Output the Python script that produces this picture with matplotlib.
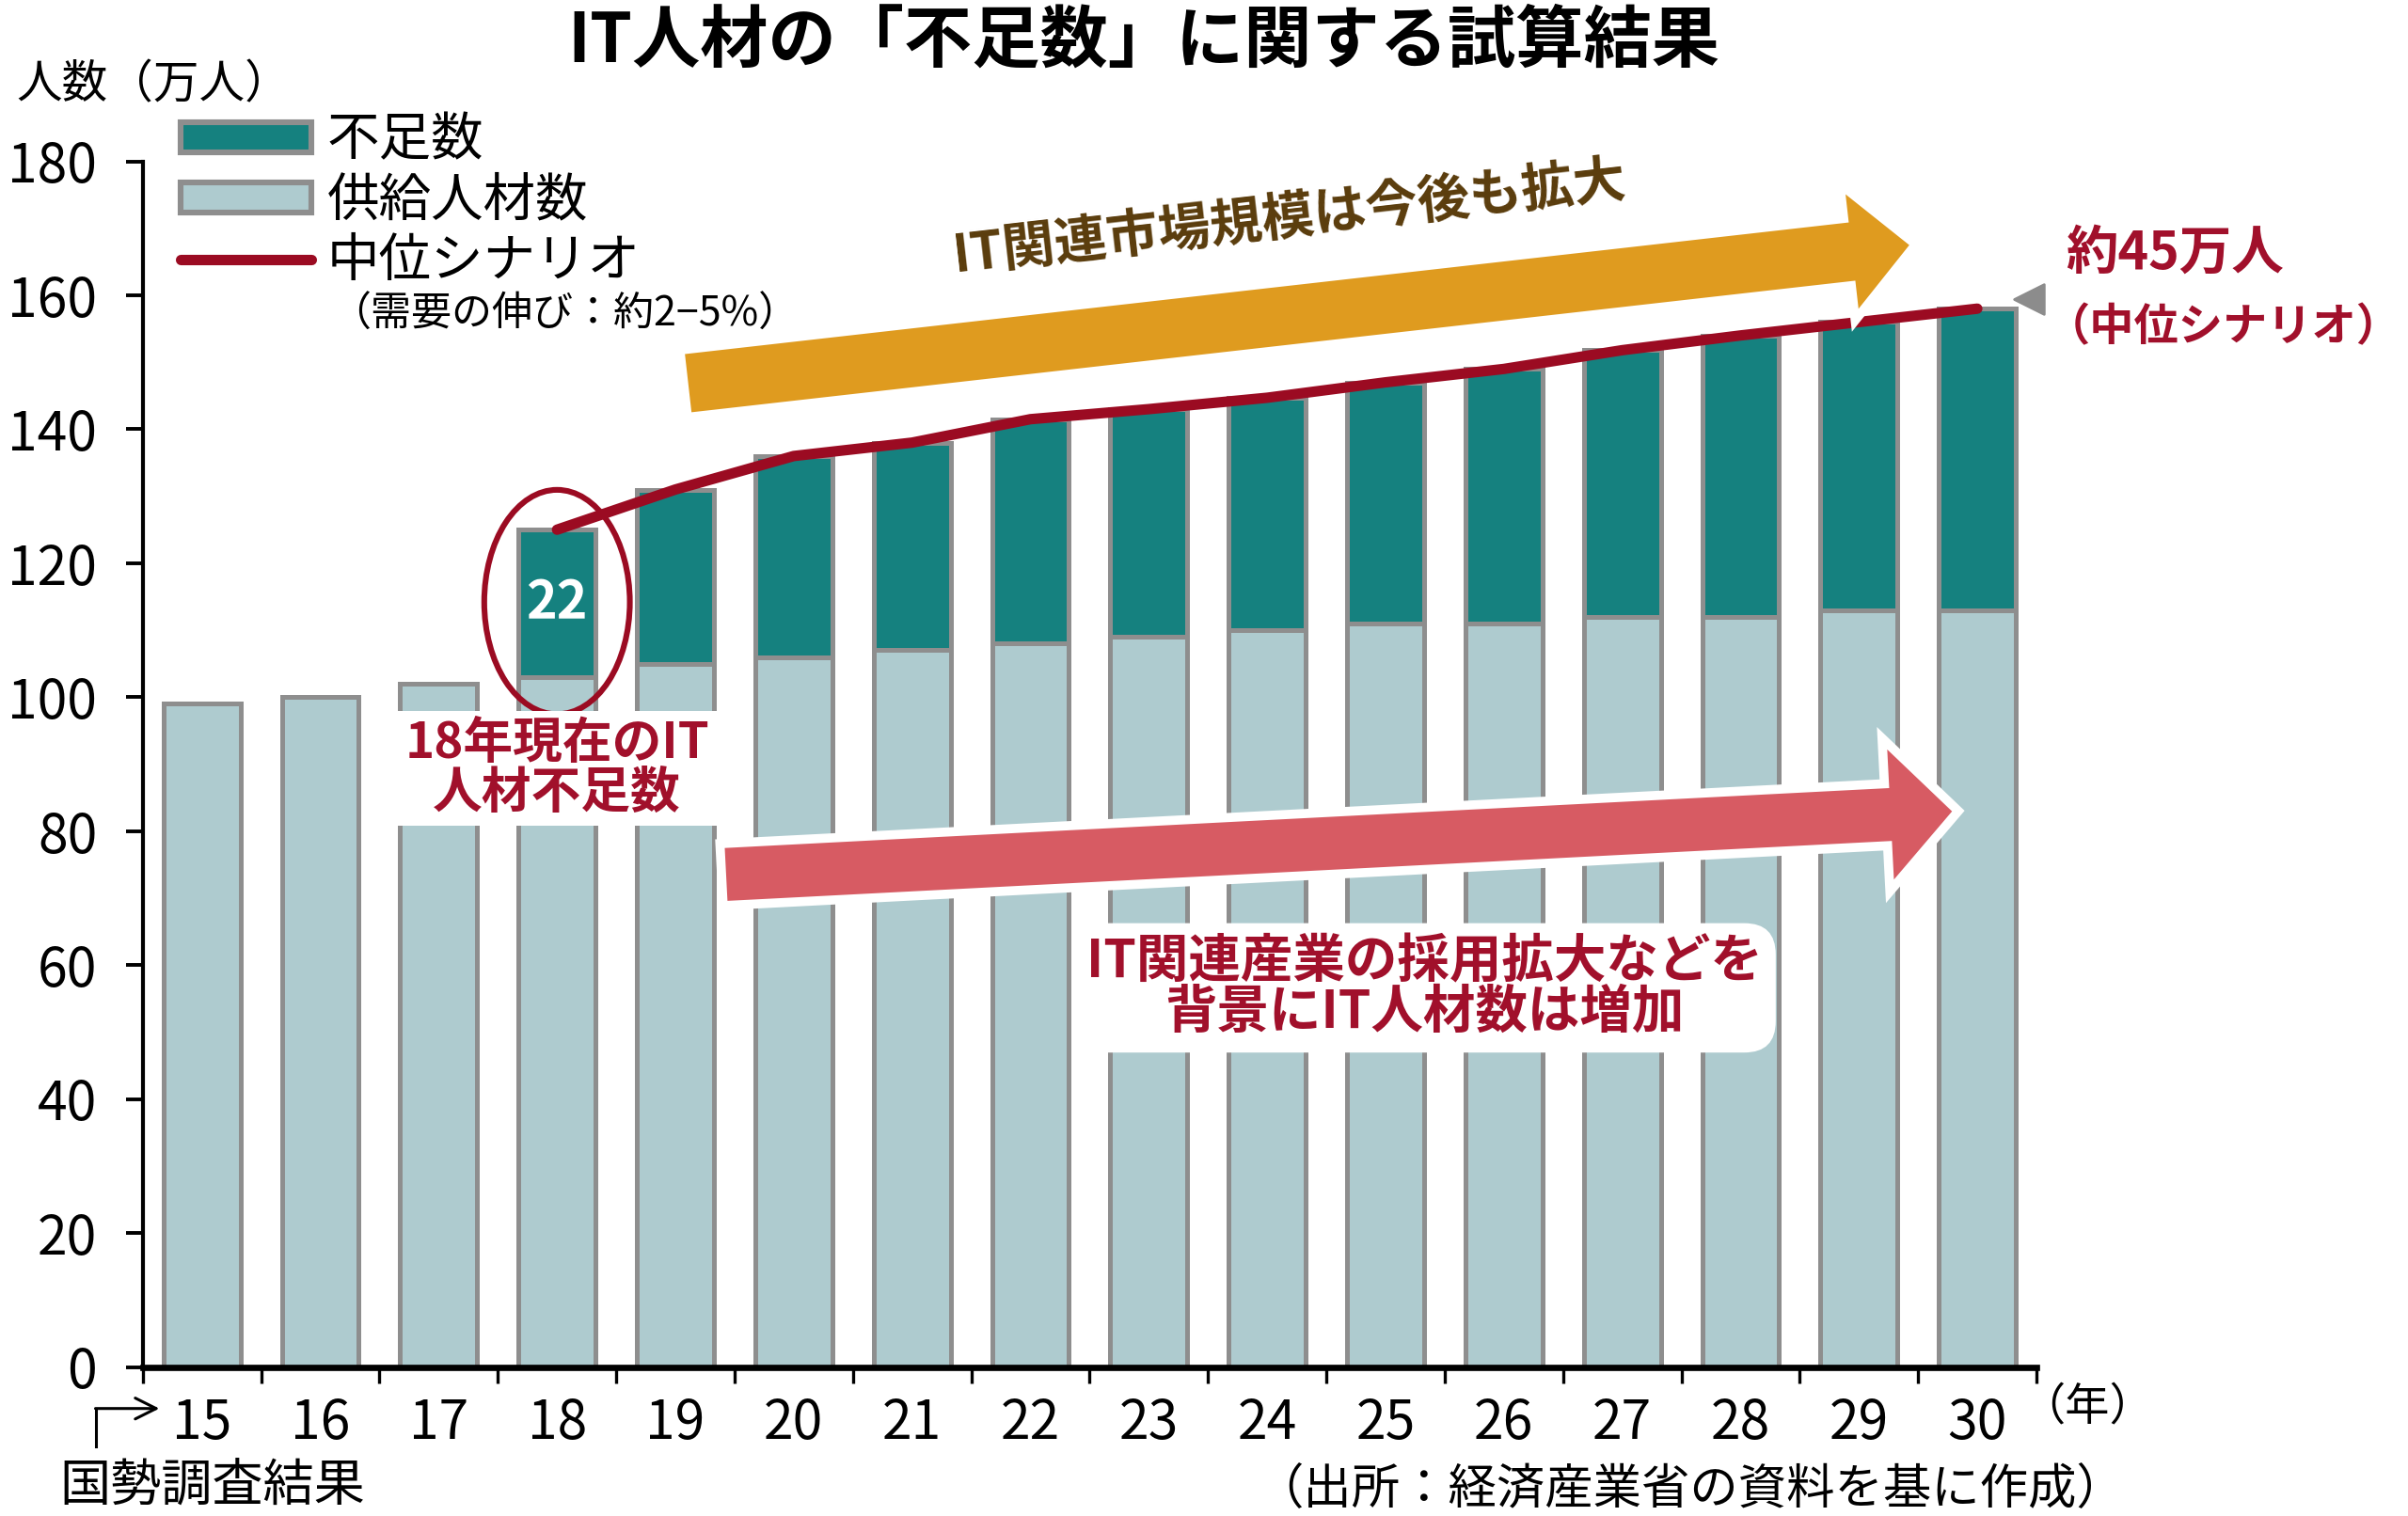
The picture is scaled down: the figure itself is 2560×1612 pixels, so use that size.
import numpy as np
import matplotlib
matplotlib.use('Agg')
from matplotlib import pyplot as plt
from matplotlib import font_manager
from matplotlib.patches import Polygon, Ellipse, Patch
from matplotlib.lines import Line2D

plt.rcParams['font.family'] = ['Noto Sans CJK JP', 'DejaVu Sans']

# data (万人)
years    = ['15', '16', '17', '18', '19', '20', '21', '22', '23', '24', '25', '26', '27', '28', '29', '30']
supply   = [99, 100, 102, 103, 105, 106, 107, 108, 109, 110, 111, 111, 112, 112, 113, 113]
shortage = [0, 0, 0, 22, 26, 30, 31, 33.5, 34, 34.7, 36, 38, 39.8, 42, 43, 45]
yticks   = [0, 20, 40, 60, 80, 100, 120, 140, 160, 180]

teal  = '#15817f'
light = '#aecbcf'
edge  = '#8e8e8e'
red   = '#9b0b22'
dred  = '#a1102b'

# narrow font for the numbers if there is one
try:
	font_manager.findfont('Liberation Sans Narrow', fallback_to_default=False)
	numfont = ['Liberation Sans Narrow', 'DejaVu Sans']
	numsize = 23
except Exception:
	numfont = ['Noto Sans CJK JP', 'DejaVu Sans']
	numsize = 20.5

fig = plt.figure(figsize=(12.8, 8.06), dpi=200)
ax  = fig.add_axes([0.0593, 0.0983, 0.7864, 0.7953])

x = np.arange(len(years))
supply   = np.array(supply, dtype=float)
shortage = np.array(shortage, dtype=float)
total    = supply + shortage

ax.bar(x, supply, width=0.65, color=light, edgecolor=edge, linewidth=1.8, zorder=2)
ax.bar(x, shortage, bottom=supply, width=0.65, color=teal, edgecolor=edge, linewidth=1.8, zorder=2)
ax.plot(x[3:], total[3:], color=red, lw=4.0, solid_capstyle='round', solid_joinstyle='round', zorder=4)

ax.set_xlim(-0.5, len(years) - 0.5)
ax.set_ylim(0, 180)
ax.set_yticks(yticks)
ax.set_yticklabels([str(v) for v in yticks], family=numfont, fontsize=numsize)
ax.set_xticks(x)
ax.set_xticklabels(years, family=numfont, fontsize=numsize)
ax.set_xticks(np.arange(-0.5, len(years)), minor=True)
ax.tick_params(axis='x', which='major', length=0, pad=11)
ax.tick_params(axis='x', which='minor', length=6, width=1.2, direction='out')
ax.tick_params(axis='y', length=6.5, width=1.4, pad=11)
for s in ['top', 'right']:
	ax.spines[s].set_visible(False)
ax.spines['left'].set_linewidth(1.5)
ax.spines['bottom'].set_linewidth(2.4)
ax.spines['bottom'].set_zorder(5)

# arrows, drawn in pixels so the shape is not skewed
fig.canvas.draw()
def big_arrow(tail, tip, body, head_w, head_l, color):
	p0 = ax.transData.transform(tail)
	p1 = ax.transData.transform(tip)
	d  = p1 - p0
	L  = np.hypot(d[0], d[1])
	u  = d / L
	n  = np.array([-u[1], u[0]])
	b  = p1 - u * head_l
	pts = [p0 + n*body/2, b + n*body/2, b + n*head_w/2, p1,
	       b - n*head_w/2, b - n*body/2, p0 - n*body/2]
	ax.add_patch(Polygon(pts, closed=True, transform=None, facecolor=color,
	                     edgecolor='white', linewidth=3.5, zorder=6, clip_on=False))

big_arrow((4.07, 146.8), (14.48, 167.6), 72, 146, 73, '#df9b1f')
big_arrow((4.39, 73.5), (14.84, 83.0), 66, 163, 77, '#d75b63')

ax.text(9.19, 171.5, 'IT関連市場規模は今後も拡大', rotation=6.5, rotation_mode='anchor',
        ha='center', va='center', fontsize=20, fontweight='bold', color='#5a3c0c', zorder=7)

# 2018 circle
ax.add_patch(Ellipse((3.0, 114.2), 1.23, 33.5, fill=False, edgecolor=red, lw=2.2, zorder=7))
ax.text(3.0, 114.0, '%d' % shortage[3], ha='center', va='center', color='white',
        fontsize=20, fontweight='bold', family=numfont, zorder=7)

ax.text(3.0, 89.4, '18年現在のIT\n人材不足数', ha='center', va='center', color=dred,
        fontsize=19, fontweight='bold', linespacing=1.0, zorder=7,
        bbox=dict(boxstyle='square,pad=0.15', fc='white', ec='none'))

ax.text(10.33, 56.6, 'IT関連産業の採用拡大などを\n背景にIT人材数は増加', ha='center', va='center',
        color=dred, fontsize=20, fontweight='bold', linespacing=0.95, zorder=7,
        bbox=dict(boxstyle='round,pad=0.25,rounding_size=0.6', fc='white', ec='none'))

# end of line
ax.scatter([15.44], [159.4], marker='<', s=130, color='#8c8c8c', clip_on=False, zorder=7)
ax.text(16.67, 166.2, '約45万人', ha='center', va='center', color=dred, fontsize=20, fontweight='bold')
ax.text(17.08, 155.2, '（中位シナリオ）', ha='center', va='center', color=dred, fontsize=17, fontweight='bold')

# bottom notes
ax.text(15.93, -6.0, '（年）', ha='center', va='center', fontsize=17)
ax.plot([-0.895, -0.895], [-11.9, -6.2], color='black', lw=1.1, clip_on=False)
ax.annotate('', xy=(-0.36, -6.2), xytext=(-0.9, -6.2), annotation_clip=False,
            arrowprops=dict(arrowstyle='->', lw=1.1, color='black', mutation_scale=20, shrinkA=0, shrinkB=0))
ax.text(0.09, -17.9, '国勢調査結果', ha='center', va='center', fontsize=19.5)
ax.text(12.57, -18.3, '（出所：経済産業省の資料を基に作成）', ha='center', va='center', fontsize=18.5)

# legend
handles = [Patch(facecolor=teal, edgecolor=edge, linewidth=2.2),
           Patch(facecolor=light, edgecolor=edge, linewidth=2.2),
           Line2D([], [], color=red, lw=4.0, solid_capstyle='round')]
ax.legend(handles, ['不足数', '供給人材数', '中位シナリオ'], loc='upper left',
          bbox_to_anchor=(0.075, 0.925), bbox_transform=fig.transFigure, frameon=False,
          fontsize=20, handlelength=2.5, handleheight=0.5, handletextpad=0.3,
          labelspacing=0.12, borderpad=0, borderaxespad=0)
fig.text(0.137, 0.7923, '（需要の伸び：約2−5%）', ha='left', va='center', fontsize=15.5)

fig.text(0.0638, 0.944, '人数（万人）', ha='center', va='center', fontsize=17.5)
fig.text(0.475, 0.9726, 'IT人材の「不足数」に関する試算結果', ha='center', va='center',
         fontsize=26, fontweight='bold')

plt.savefig('out.png', dpi=200)
plt.close()
